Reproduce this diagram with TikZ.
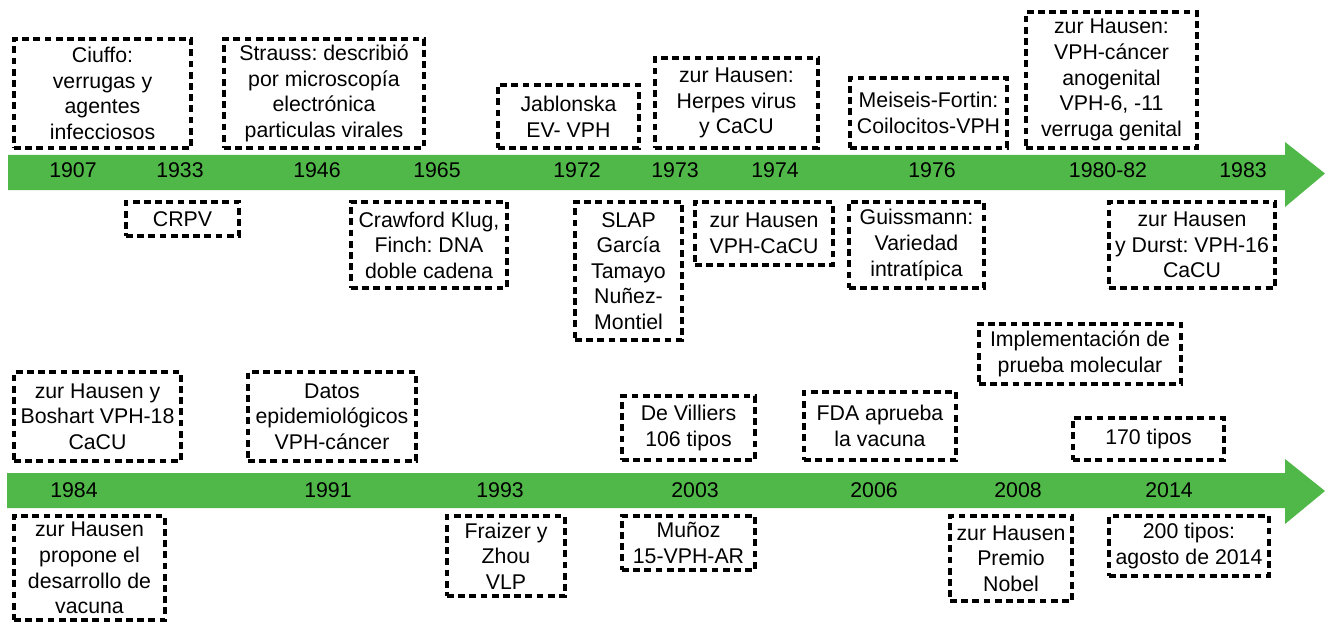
\documentclass[tikz,border=0pt]{standalone}
\usepackage{fontspec}
\setmainfont{Liberation Sans}
\frenchspacing
\definecolor{tlgreen}{RGB}{80,184,72}
\tikzset{
  evbox/.style={draw=black, line width=4pt, dash pattern=on 6.8pt off 4.4pt,
    align=center, inner sep=0pt, font=\fontsize{21.3}{25.6}\selectfont, text=black},
  yearlbl/.style={inner sep=0pt, font=\fontsize{21.3}{25.6}\selectfont, text=black},
  tlarrow/.style={fill=tlgreen, draw=none}
}
\newcommand\evnode[6]{%
  \node[evbox, minimum width={#4-#2-4}, minimum height={#5-#3-4}] (#1)
    at ({(#2+#4)/2},{(#3+#5)/2}) {#6};}
\begin{document}
\begin{tikzpicture}[x=1pt,y=-1pt]
\useasboundingbox (0,0) rectangle (1325,623);
% timeline arrows
\fill[tlarrow] (8,155) -- (1285,155) -- (1285,142) -- (1325,173.5) -- (1285,207) -- (1285,190) -- (8,190) -- cycle;
\fill[tlarrow] (7,473) -- (1285,473) -- (1285,459) -- (1325,491) -- (1285,524) -- (1285,508) -- (7,508) -- cycle;
% years row 1
\node[yearlbl] (y1907) at (73,170) {1907};
\node[yearlbl] (y1933) at (180,170) {1933};
\node[yearlbl] (y1946) at (317,170) {1946};
\node[yearlbl] (y1965) at (437,170) {1965};
\node[yearlbl] (y1972) at (577,170) {1972};
\node[yearlbl] (y1973) at (675,170) {1973};
\node[yearlbl] (y1974) at (775,170) {1974};
\node[yearlbl] (y1976) at (932,170) {1976};
\node[yearlbl] (y1980) at (1108,170) {1980-82};
\node[yearlbl] (y1983) at (1243,170) {1983};
% years row 2
\node[yearlbl] (y1984) at (74,490) {1984};
\node[yearlbl] (y1991) at (328,490) {1991};
\node[yearlbl] (y1993) at (500,490) {1993};
\node[yearlbl] (y2003) at (695,490) {2003};
\node[yearlbl] (y2006) at (874,490) {2006};
\node[yearlbl] (y2008) at (1018,490) {2008};
\node[yearlbl] (y2014) at (1169,490) {2014};
% row 1 above
\evnode{ciuffo}{12}{37}{193}{150}{Ciuffo:\\verrugas y\\agentes\\infecciosos}
\evnode{strauss}{222}{37}{426}{150}{Strauss: describió\\por microscopía\\electrónica\\particulas virales}
\evnode{jablonska}{496}{83}{641}{150}{Jablonska\\EV- VPH}
\evnode{herpes}{653}{56}{820}{150}{zur Hausen:\\Herpes virus\\y CaCU}
\evnode{meiseis}{848}{76}{1009}{150}{Meiseis-Fortin:\\Coilocitos-VPH}
\evnode{anogen}{1024}{10}{1199}{150}{zur Hausen:\\VPH-cáncer\\anogenital\\VPH-6, -11\\verruga genital}
% row 1 below
\evnode{crpv}{124}{200}{241}{238}{CRPV}
\evnode{crawford}{349}{200}{509}{290}{Crawford Klug,\\Finch: DNA\\doble cadena}
\evnode{slap}{573}{200}{684}{342}{SLAP\\García\\Tamayo\\Nuñez-\\Montiel}
\evnode{vphcacu}{693}{200}{835}{267}{zur Hausen\\VPH-CaCU}
\evnode{guissmann}{847}{200}{986}{290}{Guissmann:\\Variedad\\intratípica}
\evnode{durst}{1107}{200}{1277}{290}{zur Hausen\\y Durst: VPH-16\\CaCU}
% row 2 above
\evnode{boshart}{12}{370}{183}{463}{zur Hausen y\\Boshart VPH-18\\CaCU}
\evnode{datos}{246}{370}{418}{463}{Datos\\epidemiológicos\\VPH-cáncer}
\evnode{villiers}{620}{394}{757}{462}{De Villiers\\106 tipos}
\evnode{fda}{802}{390}{958}{462}{FDA aprueba\\la vacuna}
\evnode{implem}{977}{322}{1183}{386}{Implementación de\\prueba molecular}
\evnode{t170}{1071}{416}{1226}{462}{170 tipos}
% row 2 below
\evnode{propone}{12}{514}{167}{622}{zur Hausen\\propone el\\desarrollo de\\vacuna}
\evnode{fraizer}{445}{514}{567}{598}{Fraizer y\\Zhou\\VLP}
\evnode{munoz}{620}{514}{757}{572}{Muñoz\\15-VPH-AR}
\evnode{nobel}{948}{514}{1074}{603}{zur Hausen\\Premio\\Nobel}
\evnode{t200}{1107}{514}{1271}{578}{200 tipos:\\agosto de 2014}
\end{tikzpicture}
\end{document}
